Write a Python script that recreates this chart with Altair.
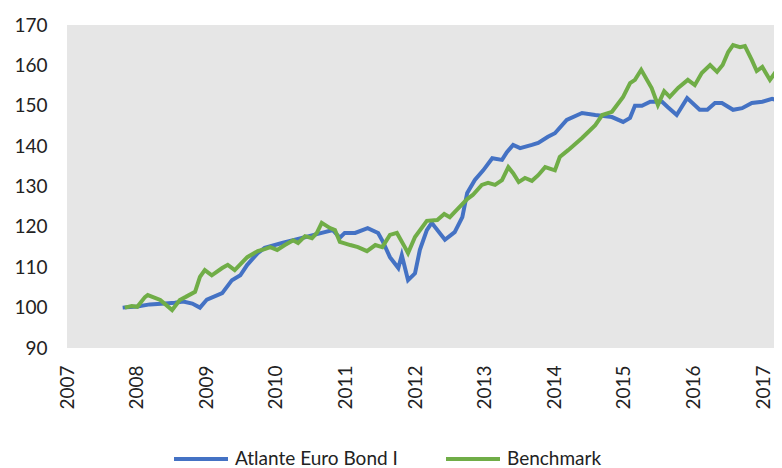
import altair as alt
import pandas as pd

series_names = ["Atlante Euro Bond I", "Benchmark"]

fund_years = [2007.80, 2008.01, 2008.19, 2008.41, 2008.55, 2008.67, 2008.80, 2008.91, 2009.01, 2009.23,
              2009.37, 2009.49, 2009.59, 2009.74, 2009.84, 2010.09, 2010.32, 2010.66, 2010.82, 2010.92,
              2010.99, 2011.14, 2011.32, 2011.47, 2011.54, 2011.64, 2011.76, 2011.81, 2011.90, 2012.00,
              2012.07, 2012.17, 2012.24, 2012.43, 2012.57, 2012.68, 2012.75, 2012.86, 2012.98, 2013.11,
              2013.25, 2013.32, 2013.41, 2013.51, 2013.68, 2013.77, 2013.91, 2014.01, 2014.18, 2014.40,
              2014.59, 2014.83, 2014.99, 2015.09, 2015.16, 2015.26, 2015.38, 2015.55, 2015.63, 2015.76,
              2015.91, 2016.09, 2016.20, 2016.31, 2016.41, 2016.57, 2016.70, 2016.84, 2016.99, 2017.13,
              2017.27]
fund_values = [100.0, 100.3, 100.8, 101.0, 101.2, 101.5, 101.0, 100.0, 102.0, 103.6,
               106.8, 108.0, 110.6, 113.5, 114.8, 116.0, 117.0, 118.5, 119.2, 117.3,
               118.5, 118.5, 119.7, 118.5, 116.3, 112.5, 109.8, 113.0, 106.8, 108.5,
               114.3, 119.2, 121.0, 116.8, 118.7, 122.4, 128.4, 131.6, 134.0, 137.0,
               136.6, 138.5, 140.3, 139.5, 140.3, 140.8, 142.3, 143.2, 146.5, 148.2,
               147.7, 147.2, 146.0, 147.0, 150.0, 150.0, 151.0, 151.0, 149.7, 147.7,
               151.9, 149.0, 149.0, 150.7, 150.7, 149.0, 149.4, 150.7, 151.0, 151.7,
               151.0]

bench_years = [2007.83, 2007.93, 2008.01, 2008.12, 2008.16, 2008.34, 2008.51, 2008.62, 2008.70, 2008.84,
               2008.91, 2008.98, 2009.08, 2009.23, 2009.31, 2009.41, 2009.59, 2009.74, 2009.84, 2009.92,
               2010.02, 2010.13, 2010.25, 2010.32, 2010.42, 2010.52, 2010.59, 2010.66, 2010.78, 2010.85,
               2010.92, 2011.07, 2011.18, 2011.31, 2011.43, 2011.53, 2011.64, 2011.74, 2011.86, 2011.90,
               2012.00, 2012.17, 2012.32, 2012.42, 2012.50, 2012.60, 2012.75, 2012.83, 2012.96, 2013.05,
               2013.15, 2013.25, 2013.34, 2013.41, 2013.49, 2013.58, 2013.68, 2013.77, 2013.87, 2014.01,
               2014.08, 2014.20, 2014.40, 2014.59, 2014.69, 2014.83, 2014.99, 2015.09, 2015.16, 2015.25,
               2015.40, 2015.49, 2015.58, 2015.66, 2015.78, 2015.92, 2016.02, 2016.12, 2016.24, 2016.34,
               2016.42, 2016.50, 2016.57, 2016.67, 2016.74, 2016.84, 2016.91, 2016.99, 2017.10, 2017.17,
               2017.27]
bench_values = [100.0, 100.4, 100.2, 102.6, 103.1, 101.9, 99.4, 101.9, 102.6, 103.9,
                107.6, 109.3, 108.0, 109.8, 110.6, 109.3, 112.5, 114.0, 114.5, 115.0,
                114.3, 115.5, 116.7, 116.0, 117.7, 117.2, 118.5, 121.0, 119.7, 119.2,
                116.3, 115.5, 115.0, 114.0, 115.5, 115.0, 118.0, 118.5, 114.8, 113.5,
                117.5, 121.5, 121.7, 123.2, 122.4, 124.2, 126.9, 127.9, 130.4, 130.9,
                130.4, 131.6, 134.8, 133.3, 131.1, 132.1, 131.4, 132.8, 134.8, 134.0,
                137.3, 139.0, 142.0, 145.2, 147.7, 148.5, 152.2, 155.6, 156.4, 158.9,
                154.4, 150.2, 153.6, 152.2, 154.4, 156.4, 155.1, 158.1, 160.1, 158.4,
                160.1, 163.3, 165.0, 164.5, 164.8, 161.3, 158.6, 159.6, 156.4, 158.1,
                157.6]

year_ticks = [2007, 2008, 2009, 2010, 2011, 2012, 2013, 2014, 2015, 2016, 2017]
value_ticks = [90, 100, 110, 120, 130, 140, 150, 160, 170]
colors = ["#4472C4", "#70AD47"]

df = pd.concat([
    pd.DataFrame({"year": fund_years, "value": fund_values, "series": series_names[0]}),
    pd.DataFrame({"year": bench_years, "value": bench_values, "series": series_names[1]}),
])

FONT = "Lato"
TXT = "#222222"

chart = alt.Chart(df).mark_line(strokeWidth=4, clip=True).encode(
    x=alt.X("year:Q",
            scale=alt.Scale(domain=[2007, 2017.158], nice=False, zero=False),
            axis=alt.Axis(values=year_ticks, format="d", labelAngle=270, title=None,
                          grid=False, ticks=False, domain=False, labelPadding=17,
                          labelFontSize=19, labelFont=FONT, labelColor=TXT,
                          labelOverlap=False, labelFlush=False)),
    y=alt.Y("value:Q",
            scale=alt.Scale(domain=[90, 170], nice=False, zero=False),
            axis=alt.Axis(values=value_ticks, title=None, grid=False, ticks=False,
                          domain=False, labelPadding=20, labelFontSize=19, labelFont=FONT,
                          labelColor=TXT, labelFlush=False)),
    color=alt.Color("series:N",
                    scale=alt.Scale(domain=series_names, range=colors),
                    legend=alt.Legend(title=None, orient="none", direction="horizontal",
                                      legendX=105, legendY=405, symbolType="stroke",
                                      symbolSize=2916, symbolStrokeWidth=4,
                                      labelFontSize=19, labelFont=FONT, labelColor=TXT,
                                      labelLimit=400, columnPadding=40, labelOffset=5,
                                      padding=0)),
    order=alt.Order("year:Q"),
).properties(
    width=707, height=323,
    autosize=alt.AutoSizeParams(type="none"),
    padding={"left": 59, "top": 17, "right": 0, "bottom": 120},
).configure(
    background="white"
).configure_view(
    fill="#E6E6E6", stroke=None
)

chart.save("out.html", embed_options={"renderer": "svg", "actions": False})
